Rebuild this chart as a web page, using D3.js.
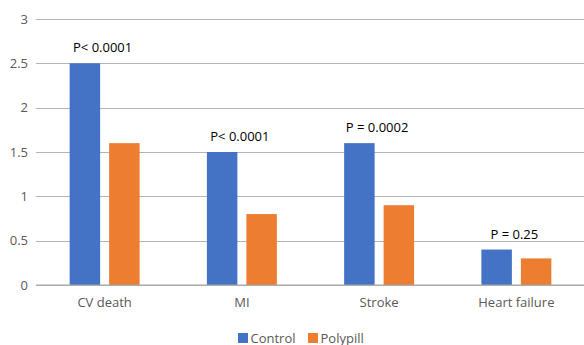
<!DOCTYPE html>
<html>
<head>
<meta charset="utf-8">
<script src="https://cdn.jsdelivr.net/npm/d3@7/dist/d3.min.js"></script>
<style>
  html, body { margin: 0; padding: 0; background: #fff; }
  svg { display: block; font-family: "Open Sans", sans-serif; }
</style>
</head>
<body>
<svg id="chart" width="584" height="345"></svg>
<script>
// Event rates by outcome, control vs polypill
const categories = ["CV death", "MI", "Stroke", "Heart failure"];
const series = ["Control", "Polypill"];
const controlValues = [2.5, 1.5, 1.6, 0.4];
const polypillValues = [1.6, 0.8, 0.9, 0.3];
const pValueLabels = ["P< 0.0001", "P< 0.0001", "P = 0.0002", "P = 0.25"];
const yTicks = [0, 0.5, 1, 1.5, 2, 2.5, 3];

const colors = { Control: "#4472C4", Polypill: "#ED7D31" };
const textColor = "#595959";
const gridColor = "#b3b3b3";

const svg = d3.select("#chart");

const margin = { left: 36, right: -1, top: 19, bottom: 60 };
const W = +svg.attr("width"), H = +svg.attr("height");

const y = d3.scaleLinear().domain([0, 3]).range([H - margin.bottom, margin.top]);
const x0 = d3.scaleBand().domain(categories).range([margin.left, W - margin.right]).padding(0);
const x1 = d3.scaleBand().domain(series).range([0, x0.bandwidth()])
  .paddingInner(0.228).paddingOuter(0.852);

const rows = categories.map((c, i) => ({
  category: c,
  values: { Control: controlValues[i], Polypill: polypillValues[i] },
  label: pValueLabels[i]
}));

// Gridlines and y tick labels
const yAxis = d3.axisLeft(y).tickValues(yTicks).tickSize(-(W - margin.right - margin.left))
  .tickPadding(8).tickFormat(d3.format("~g"));
const gy = svg.append("g").attr("transform", `translate(${margin.left},0)`).call(yAxis);
gy.select(".domain").remove();
gy.selectAll(".tick line").attr("stroke", gridColor).attr("stroke-width", 1)
  .attr("shape-rendering", "crispEdges");
gy.selectAll(".tick text").attr("fill", textColor).attr("font-size", 13)
  .attr("font-family", "'Open Sans', sans-serif");

// Bars
const groups = svg.append("g").selectAll("g").data(rows).join("g")
  .attr("transform", d => `translate(${x0(d.category)},0)`);
groups.selectAll("rect").data(d => series.map(s => ({ s, v: d.values[s] }))).join("rect")
  .attr("x", d => x1(d.s))
  .attr("width", x1.bandwidth())
  .attr("y", d => y(d.v))
  .attr("height", d => y(0) - y(d.v))
  .attr("fill", d => colors[d.s]);

// Baseline
svg.append("line")
  .attr("x1", margin.left).attr("x2", W)
  .attr("y1", y(0)).attr("y2", y(0))
  .attr("stroke", "#a6a6a6").attr("stroke-width", 1.2);

// P-value annotations above each pair
groups.append("text")
  .attr("x", x0.bandwidth() / 2 - 2)
  .attr("y", d => y(Math.max(d.values.Control, d.values.Polypill)) - 11)
  .attr("text-anchor", "middle")
  .attr("font-size", 13)
  .attr("fill", "#000")
  .text(d => d.label);

// Category labels
const xAxis = d3.axisBottom(x0).tickSize(0).tickPadding(13);
const gx = svg.append("g").attr("transform", `translate(0,${y(0)})`).call(xAxis);
gx.select(".domain").remove();
gx.selectAll(".tick text").attr("fill", textColor).attr("font-size", 13)
  .attr("font-family", "'Open Sans', sans-serif");

// Legend
const legend = svg.append("g").attr("transform", `translate(238,333)`);
const items = legend.selectAll("g").data(series).join("g")
  .attr("transform", (d, i) => `translate(${i * 70},0)`);
items.append("rect").attr("width", 10).attr("height", 10).attr("fill", d => colors[d]);
items.append("text").attr("x", 12.5).attr("y", 9.5)
  .attr("font-size", 13).attr("fill", textColor).text(d => d);
</script>
</body>
</html>
